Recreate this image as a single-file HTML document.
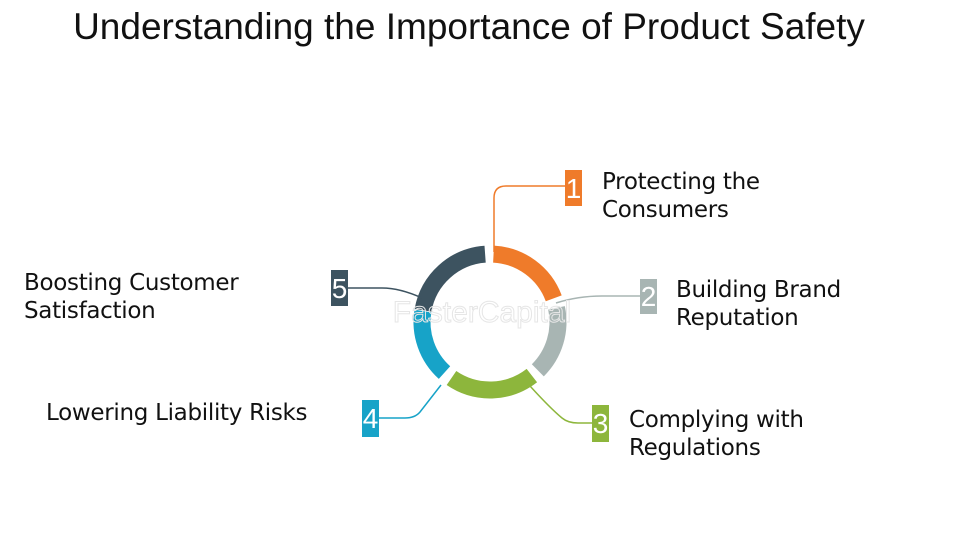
<!DOCTYPE html>
<html><head><style>
body{margin:0;width:980px;height:551px;background:#fff;overflow:hidden;position:relative;font-family:"Liberation Sans",sans-serif}
.t{position:absolute;font-size:23px;line-height:28px;color:#111;font-family:"DejaVu Sans","Liberation Sans",sans-serif;letter-spacing:-0.3px}
</style></head><body>
<div style="position:absolute;left:0;width:938px;top:6px;text-align:center;font-size:37px;color:#111">Understanding the Importance of Product Safety</div>
<svg width="980" height="551" style="position:absolute;left:0;top:0">
<g fill="none" stroke-width="17">
<circle cx="490" cy="322" r="68" stroke="#ef7b2a" stroke-dasharray="79 500" transform="rotate(-87 490 322)"/>
<circle cx="490" cy="322" r="68" stroke="#a8b5b3" stroke-dasharray="68 500" transform="rotate(-12 490 322)"/>
<circle cx="490" cy="322" r="68" stroke="#8db63c" stroke-dasharray="86 500" transform="rotate(52 490 322)"/>
<circle cx="490" cy="322" r="68" stroke="#17a3c8" stroke-dasharray="68 500" transform="rotate(132 490 322)"/>
<circle cx="490" cy="322" r="68" stroke="#3d5360" stroke-dasharray="90 500" transform="rotate(190 490 322)"/>
</g>
<g fill="none" stroke-width="1.5">
<path d="M494 252 V198 Q494 186 506 186 H566" stroke="#ef7b2a"/>
<path d="M556 303 Q578 296 602 296 H641" stroke="#a8b5b3"/>
<path d="M530 386 Q550 408 562 418 Q568 423 578 423 H593" stroke="#8db63c"/>
<path d="M441 385 L420 412 Q415 418 405 418 H377" stroke="#17a3c8"/>
<path d="M346 288 H382 Q400 288 422 298" stroke="#3d5360"/>
</g>
<g font-family="Liberation Sans" font-size="28" fill="#fff" text-anchor="middle">
<rect x="565" y="170" width="17" height="36" fill="#ef7b2a"/><text x="573.5" y="198">1</text>
<rect x="640" y="279" width="17" height="35" fill="#a8b5b3"/><text x="648.5" y="306">2</text>
<rect x="592" y="405" width="17" height="37" fill="#8db63c"/><text x="600.5" y="433">3</text>
<rect x="362" y="400" width="17" height="37" fill="#17a3c8"/><text x="370.5" y="428">4</text>
<rect x="331" y="270" width="17" height="36" fill="#3d5360"/><text x="339.5" y="298">5</text>
</g>
<text x="482" y="322" font-size="30" fill="none" stroke="#e6e6e6" stroke-width="1" text-anchor="middle">FasterCapital</text>
</svg>
<div class="t" style="left:602px;top:168px">Protecting the<br>Consumers</div>
<div class="t" style="left:676px;top:276px">Building Brand<br>Reputation</div>
<div class="t" style="left:629px;top:406px">Complying with<br>Regulations</div>
<div class="t" style="left:46px;top:399px">Lowering Liability Risks</div>
<div class="t" style="left:24px;top:269px">Boosting Customer<br>Satisfaction</div>
</body></html>
